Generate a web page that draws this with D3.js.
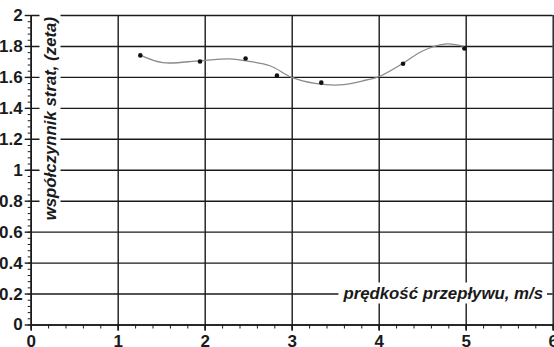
<!DOCTYPE html>
<html>
<head>
<meta charset="utf-8">
<script src="https://cdn.jsdelivr.net/npm/d3@7"></script>
<style>
  body { margin: 0; background: #fff; }
  svg { display: block; }
  .axis text { font-family: "Liberation Sans", Arial, sans-serif; font-weight: bold; font-size: 17px; fill: #1a1a1a; }
  .axis line, .axis path { stroke: #1a1a1a; }
  .title { font-family: "Liberation Sans", Arial, sans-serif; font-weight: bold; font-style: italic; font-size: 16.8px; fill: #1a1a1a; }
</style>
</head>
<body>
<div id="chart"></div>
<script>
// measured points: flow speed (m/s) and loss coefficient (zeta)
var speed = [1.26, 1.946, 2.47, 2.83, 3.34, 4.28, 4.985];
var zeta  = [1.739, 1.70, 1.719, 1.608, 1.563, 1.685, 1.784];

// fitted trend line
var fitSpeed = [1.26, 1.52, 1.95, 2.29, 2.46, 2.75, 3.0, 3.27, 3.55, 3.86, 4.0, 4.28, 4.51, 4.78, 4.985];
var fitZeta  = [1.741, 1.692, 1.705, 1.716, 1.705, 1.672, 1.597, 1.558, 1.548, 1.58, 1.601, 1.688, 1.769, 1.813, 1.795];

// tick values
var xTicks = [0, 1, 2, 3, 4, 5, 6];
var yTicks = [0, 0.2, 0.4, 0.6, 0.8, 1, 1.2, 1.4, 1.6, 1.8, 2];

var xTitle = "prędkość przepływu, m/s";
var yTitle = "współczynnik strat, (zeta)";

var W = 554, H = 347;
var plotLeft = 30.7, plotRight = 552.7, plotTop = 15, plotBottom = 324.5;

var svg = d3.select("#chart").append("svg")
  .attr("width", W)
  .attr("height", H);

var x = d3.scaleLinear().domain([0, 6]).range([plotLeft, plotRight]);
var y = d3.scaleLinear().domain([0, 2]).range([plotBottom, plotTop]);

//horizontal grid
svg.append("g")
  .attr("class", "axis")
  .attr("transform", "translate(" + plotLeft + ",0)")
  .call(d3.axisRight(y).tickValues(yTicks).tickSize(plotRight - plotLeft).tickFormat(""))
  .call(function(g) { g.select(".domain").remove(); })
  .selectAll("line").attr("stroke-width", 1.4);

//vertical grid
svg.append("g")
  .attr("class", "axis")
  .attr("transform", "translate(0," + plotTop + ")")
  .call(d3.axisBottom(x).tickValues(xTicks).tickSize(plotBottom - plotTop + 6).tickFormat(""))
  .call(function(g) { g.select(".domain").remove(); })
  .selectAll("line").attr("stroke-width", 1.4);

//minor ticks
svg.append("g")
  .attr("class", "axis")
  .attr("transform", "translate(" + plotLeft + ",0)")
  .call(d3.axisLeft(y).tickValues(d3.range(0, 2.001, 0.04)).tickSize(3).tickSizeOuter(0).tickFormat(""))
  .call(function(g) { g.select(".domain").remove(); });
svg.append("g")
  .attr("class", "axis")
  .attr("transform", "translate(0," + plotBottom + ")")
  .call(d3.axisBottom(x).tickValues(d3.range(0, 6.001, 0.2)).tickSize(4).tickSizeOuter(0).tickFormat(""))
  .call(function(g) { g.select(".domain").remove(); });

//main axes with labels
svg.append("g")
  .attr("class", "axis")
  .attr("transform", "translate(" + plotLeft + ",0)")
  .call(d3.axisLeft(y).tickValues(yTicks).tickSize(6).tickSizeOuter(0).tickPadding(2)
    .tickFormat(function(d) { return String(+d.toFixed(1)); }))
  .call(function(g) { g.selectAll("line").attr("stroke-width", 1.4); g.select(".domain").attr("stroke-width", 1.6); });

svg.append("g")
  .attr("class", "axis")
  .attr("transform", "translate(0," + plotBottom + ")")
  .call(d3.axisBottom(x).tickValues(xTicks).tickSize(6).tickSizeOuter(0).tickPadding(4).tickFormat(d3.format("d")))
  .call(function(g) { g.selectAll("line").attr("stroke-width", 1.4); g.select(".domain").attr("stroke-width", 1.6); });

//trend line
var fit = fitSpeed.map(function(d, i) { return [d, fitZeta[i]]; });
var line = d3.line()
  .x(function(d) { return x(d[0]); })
  .y(function(d) { return y(d[1]); })
  .curve(d3.curveCatmullRom.alpha(0.5));
svg.append("path")
  .datum(fit)
  .attr("d", line)
  .attr("fill", "none")
  .attr("stroke", "#8a8a8a")
  .attr("stroke-width", 1.3);

//points
svg.selectAll("circle.pt")
  .data(speed)
  .enter().append("circle")
  .attr("class", "pt")
  .attr("cx", function(d) { return x(d); })
  .attr("cy", function(d, i) { return y(zeta[i]); })
  .attr("r", 2.3)
  .attr("fill", "#111");

//titles with white boxes over the grid
function addTitle(txt, tx, ty, rot) {
  var g = svg.append("g").attr("transform", "translate(" + tx + "," + ty + ") rotate(" + rot + ")");
  var rect = g.append("rect").attr("fill", "#fff");
  var t = g.append("text").attr("class", "title").attr("text-anchor", "end").text(txt);
  var bb = t.node().getBBox();
  rect.attr("x", bb.x - 4).attr("y", bb.y - 1).attr("width", bb.width + 8).attr("height", bb.height + 2);
}
addTitle(xTitle, 543, 298.5, 0);
addTitle(yTitle, 55.5, 17, -90);
</script>
</body>
</html>
